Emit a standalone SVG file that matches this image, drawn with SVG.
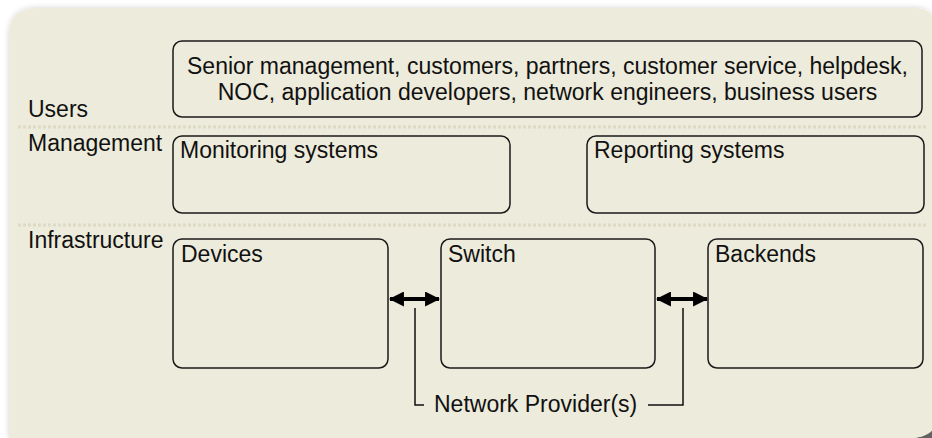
<svg xmlns="http://www.w3.org/2000/svg" width="932" height="438" viewBox="0 0 932 438">
  <defs>
    <filter id="panelShadow" x="-5%" y="-5%" width="110%" height="110%">
      <feGaussianBlur in="SourceAlpha" stdDeviation="3"/>
      <feOffset dx="0" dy="0"/>
      <feComponentTransfer><feFuncA type="linear" slope="0.18"/></feComponentTransfer>
      <feMerge><feMergeNode/><feMergeNode in="SourceGraphic"/></feMerge>
    </filter>
    <marker id="head" viewBox="0 0 14 14" refX="13" refY="7" markerWidth="15" markerHeight="15" markerUnits="userSpaceOnUse" orient="auto-start-reverse">
      <path d="M0,0 L14,7 L0,14 Z" fill="#000"/>
    </marker>
  </defs>
  <style>
    .box { fill: #EDEBDB; stroke: #1a1a1a; stroke-width: 1.5; }
    .lbl { font-family: "Liberation Sans", Arial, sans-serif; font-size: 23px; fill: #111; }
    .sep { stroke: #DDDAC6; stroke-width: 3; stroke-dasharray: 3 2; fill: none; }
    .link { stroke: #000; stroke-width: 4; fill: none; }
    .brk { stroke: #111; stroke-width: 1.5; fill: none; }
  </style>

  <rect width="932" height="438" fill="#ffffff"/>

  <!-- curl shadow at the lower right corner -->
  <path d="M914,438 Q928,436 932,428 L932,438 Z" fill="#666666"/>

  <!-- background panel -->
  <path d="M9,36 Q9,8 37,8 L914,8 Q936,8 936,30 L936,424 Q932,436 914,438 L9,438 Z" fill="#EDEBDB" filter="url(#panelShadow)"/>

  <!-- layer separators -->
  <line class="sep" x1="18" y1="127" x2="928" y2="127"/>
  <line class="sep" x1="18" y1="225" x2="928" y2="225"/>

  <!-- layer labels -->
  <g id="layer-labels">
    <text class="lbl" x="28" y="117">Users</text>
    <text class="lbl" x="28" y="151">Management</text>
    <text class="lbl" x="28" y="248">Infrastructure</text>
  </g>

  <g id="users">
    <rect class="box" x="173" y="41" width="749" height="76" rx="9"/>
    <text class="lbl" x="547.5" y="74" text-anchor="middle">Senior management, customers, partners, customer service, helpdesk,</text>
    <text class="lbl" x="547.5" y="100" text-anchor="middle">NOC, application developers, network engineers, business users</text>
  </g>

  <g id="monitoring">
    <rect class="box" x="173" y="136" width="337" height="77" rx="9"/>
    <text class="lbl" x="180" y="158">Monitoring systems</text>
  </g>

  <g id="reporting">
    <rect class="box" x="587" y="136" width="337" height="77" rx="9"/>
    <text class="lbl" x="594" y="158">Reporting systems</text>
  </g>

  <g id="devices">
    <rect class="box" x="173" y="239" width="215" height="129" rx="9"/>
    <text class="lbl" x="181" y="262">Devices</text>
  </g>

  <g id="switch">
    <rect class="box" x="441" y="239" width="214" height="129" rx="9"/>
    <text class="lbl" x="448" y="262">Switch</text>
  </g>

  <g id="backends">
    <rect class="box" x="708" y="239" width="215" height="129" rx="9"/>
    <text class="lbl" x="715" y="262">Backends</text>
  </g>

  <g id="connectors">
    <line class="link" x1="390" y1="299" x2="439" y2="299" marker-start="url(#head)" marker-end="url(#head)"/>
    <line class="link" x1="657" y1="299" x2="707" y2="299" marker-start="url(#head)" marker-end="url(#head)"/>
    <polyline class="brk" points="415,308 415,405 424,405"/>
    <polyline class="brk" points="648,405 683,405 683,308"/>
  </g>

  <g id="network-provider">
    <text class="lbl" x="434" y="412">Network Provider(s)</text>
  </g>
</svg>
